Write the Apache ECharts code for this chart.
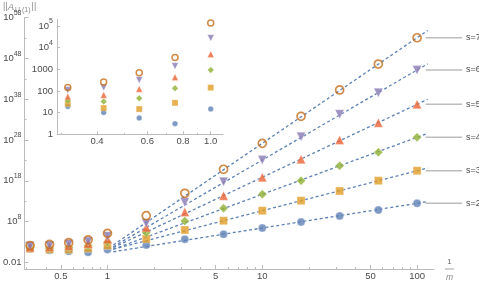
<!DOCTYPE html>
<html><head><meta charset="utf-8">
<script src="https://cdn.jsdelivr.net/npm/echarts@6/dist/echarts.min.js"></script>
<style>html,body{margin:0;padding:0;background:#fff}#c{width:479px;height:282px}</style>
</head><body><div id="c"></div>
<script>
// ---- data ----
const xValues = [0.316, 0.422, 0.562, 0.75, 1, 1.78, 3.16, 5.62, 10, 17.8, 31.6, 56.2, 100];
const insetCount = 5; // first five x values (<= 1) also shown in the inset
const seriesNames = ['s=2', 's=3', 's=4', 's=5', 's=6', 's=7'];
const valS2 = [19.2, 10.2, 5.65, 3.1, 14.6, 195, 4.8e3, 8.1e4, 2.8e6, 8.3e7, 2.5e9, 7.2e10, 3.2e12];
const valS3 = [25.6, 16.3, 14.6, 28.4, 143, 5.8e3, 9.1e5, 1.7e8, 4.9e10, 1.4e13, 3.2e15, 1.1e18, 3.0e20];
const valS4 = [36, 32.6, 46.6, 134, 930, 2.0e5, 1.4e8, 1.9e11, 5.0e14, 1.1e18, 5.0e21, 9.8e24, 4.6e28];
const valS5 = [55, 66, 125, 428, 5000, 4.0e6, 2.3e10, 2.3e14, 7.4e18, 1.9e23, 1.0e28, 1.7e32, 5.6e36];
const valS6 = [112, 143, 322, 1413, 28000, 4.0e7, 5.5e12, 6.2e17, 1.3e23, 6.5e28, 2.0e34, 3.9e39, 1.4e45];
const valS7 = [143, 262, 700, 3550, 137000, 2.9e9, 8.9e14, 6.8e20, 1.5e27, 6.3e33, 1.8e40, 4.0e46, 1.1e53];
// dashed asymptotic fit lines: endpoints
const fitX = [1.09, 117];
const fitS2 = [4.3, 8.1e12];
const fitS3 = [18.6, 1.4e21];
const fitS4 = [18.2, 4.1e29];
const fitS5 = [45.7, 9.3e37];
const fitS6 = [74, 4.5e46];
const fitS7 = [195, 6.6e54];
// ticks
const xTickLabels = [0.5, 1, 5, 10, 50, 100];
const xMinorTicks = [0.3, 0.4, 0.6, 0.7, 0.8, 0.9, 2, 3, 4, 6, 7, 8, 9, 20, 30, 40, 60, 70, 80, 90];
const yTickLabels = [0.01, 1e8, 1e18, 1e28, 1e38, 1e48, 1e58];
const yMinorTicks = [1e3, 1e13, 1e23, 1e33, 1e43, 1e53];
const insetXTickLabels = [0.4, 0.6, 0.8, 1.0];
const insetXMinorTicks = [0.3, 0.5, 0.7, 0.9];
const insetYTickLabels = [1, 10, 100, 1000, 1e4, 1e5];

// ---- styles ----
const allVals = [valS2, valS3, valS4, valS5, valS6, valS7];
const allFits = [fitS2, fitS3, fitS4, fitS5, fitS6, fitS7];
const colors = ['#5E81B5', '#E19C24', '#8FB032', '#EB6235', '#8778B3', '#C56E1A'];
const symbols = ['circle', 'rect', 'diamond', 'triangle', 'triangle', 'circle'];
const rotates = [0, 0, 0, 0, 180, 0];
const mainSizes = [8, 8, 9, 9, 9, 8];
const insetSizes = [5.5, 6, 6.5, 6.5, 6.5, 6];
const txt = '#4a4a4a';
const axisCol = '#bcbcbc';
const FONT = 'Liberation Sans';
const lineBlue = '#5E81B5';

const chart = echarts.init(document.getElementById('c'), null, {renderer: 'canvas'});

const supRich = {
  b: {fontSize: 9.5, fontFamily: FONT, color: txt, lineHeight: 16, verticalAlign: 'middle'},
  s: {fontSize: 7, fontFamily: FONT, color: txt, lineHeight: 16, verticalAlign: 'top'}
};

function logAxis(extra) {
  return Object.assign({
    type: 'log', logBase: 10,
    splitLine: {show: false},
    axisLine: {show: true, lineStyle: {color: axisCol, width: 1}},
  }, extra);
}

const xAxes = [
  logAxis({gridIndex: 0, position: 'bottom', min: 0.291, max: 128.6,
    axisTick: {show: true, inside: true, length: 4, customValues: xTickLabels, lineStyle: {color: axisCol}},
    axisLabel: {show: true, customValues: xTickLabels, margin: 2, color: txt, fontSize: 9.5, fontFamily: FONT,
      formatter: v => String(+(+v).toPrecision(3))}}),
  logAxis({gridIndex: 0, position: 'bottom', min: 0.291, max: 128.6, axisLine: {show: false},
    axisTick: {show: true, inside: true, length: 2, customValues: xMinorTicks, lineStyle: {color: axisCol}},
    axisLabel: {show: false}}),
  logAxis({gridIndex: 1, position: 'bottom', min: 0.2897, max: 1.104,
    axisTick: {show: true, inside: true, length: 3, customValues: insetXTickLabels, lineStyle: {color: axisCol}},
    axisLabel: {show: true, customValues: insetXTickLabels, margin: 2, color: txt, fontSize: 9.5, fontFamily: FONT,
      formatter: v => (+v).toFixed(1)}}),
  logAxis({gridIndex: 1, position: 'bottom', min: 0.2897, max: 1.104, axisLine: {show: false},
    axisTick: {show: true, inside: true, length: 1.5, customValues: insetXMinorTicks, lineStyle: {color: axisCol}},
    axisLabel: {show: false}})
];

const yAxes = [
  logAxis({gridIndex: 0, position: 'left', min: Math.pow(10, -3.59), max: 1.002e58,
    axisTick: {show: true, inside: true, length: 4, customValues: yTickLabels, lineStyle: {color: axisCol}},
    axisLabel: {show: true, customValues: yTickLabels, margin: 3, color: txt, fontSize: 9.5, fontFamily: FONT,
      rich: supRich,
      formatter: v => { if (v < 1) return '{b|0.01}'; const e = Math.round(Math.log10(v)); return '{b|10}{s|' + e + '}'; }}}),
  logAxis({gridIndex: 0, position: 'left', min: Math.pow(10, -3.59), max: 1.002e58, axisLine: {show: false},
    axisTick: {show: true, inside: true, length: 2, customValues: yMinorTicks, lineStyle: {color: axisCol}},
    axisLabel: {show: false}}),
  logAxis({gridIndex: 1, position: 'left', min: 1, max: Math.pow(10, 5.3),
    axisTick: {show: true, inside: true, length: 3, customValues: insetYTickLabels, lineStyle: {color: axisCol}},
    axisLabel: {show: true, customValues: insetYTickLabels, margin: 4, color: txt, fontSize: 9.5, fontFamily: FONT,
      rich: supRich,
      formatter: v => { if (v <= 1000) return '{b|' + Math.round(v) + '}'; const e = Math.round(Math.log10(v)); return '{b|10}{s|' + e + '}'; }}})
];

const series = [];
// dashed fit lines (below the points)
allFits.forEach((f, k) => {
  series.push({
    type: 'line', xAxisIndex: 0, yAxisIndex: 0, z: 1,
    data: fitX.map((x, i) => [x, f[i]]),
    showSymbol: false, symbol: 'none', silent: true,
    lineStyle: {color: lineBlue, width: 1.3, type: [3, 2.5]}
  });
});
// main points
allVals.forEach((vals, k) => {
  const open = k === 5;
  series.push({
    type: 'scatter', name: seriesNames[k], xAxisIndex: 0, yAxisIndex: 0, z: 3 + k,
    data: xValues.map((x, i) => [x, vals[i]]),
    symbol: symbols[k], symbolRotate: rotates[k], symbolSize: mainSizes[k],
    itemStyle: open ? {color: 'rgba(255,255,255,0)', borderColor: colors[k], borderWidth: 1.7}
                    : {color: colors[k], borderColor: 'rgba(255,255,255,0.45)', borderWidth: 0.8}
  });
});
// inset points
allVals.forEach((vals, k) => {
  const open = k === 5;
  series.push({
    type: 'scatter', xAxisIndex: 2, yAxisIndex: 2, z: 3 + k,
    data: xValues.slice(0, insetCount).map((x, i) => [x, vals[i]]),
    symbol: symbols[k], symbolRotate: rotates[k], symbolSize: insetSizes[k],
    itemStyle: open ? {color: 'rgba(255,255,255,0)', borderColor: colors[k], borderWidth: 1.5}
                    : {color: colors[k], borderColor: 'rgba(255,255,255,0.45)', borderWidth: 0.6}
  });
});

chart.setOption({
  animation: false,
  backgroundColor: '#fff',
  grid: [
    {left: 22.7, right: 45, top: 17.5, bottom: 13, containLabel: false},
    {left: 57, right: 256, top: 19.5, bottom: 147.7, containLabel: false}
  ],
  xAxis: xAxes,
  yAxis: yAxes,
  series: series
});

// right-hand labels and axis captions
const g = [];
allVals.forEach((vals, k) => {
  const last = vals.length - 1;
  const p = chart.convertToPixel({xAxisIndex: 0, yAxisIndex: 0}, [xValues[last], vals[last]]);
  g.push({type: 'line', silent: true, shape: {x1: p[0] + 8.5, y1: p[1], x2: p[0] + 45, y2: p[1]},
    style: {stroke: '#bdbdbd', lineWidth: 1.5}});
  g.push({type: 'text', silent: true, x: p[0] + 49, y: p[1],
    style: {text: seriesNames[k], fill: txt, fontSize: 9, fontFamily: FONT, align: 'left', verticalAlign: 'middle'}});
});
g.push({type: 'text', silent: true, x: 3, y: 7,
  style: {text: '{n|||}{a|A}{u|U (1)}{n|||}', verticalAlign: 'middle', align: 'left',
    rich: {
      n: {fontSize: 9, fontFamily: FONT, fill: '#8a8a8a', lineHeight: 14, verticalAlign: 'middle'},
      a: {fontSize: 9.5, fontFamily: FONT, fontStyle: 'italic', fill: '#8a8a8a', lineHeight: 14, verticalAlign: 'middle', padding: [0, 1, 0, 0]},
      u: {fontSize: 7, fontFamily: FONT, fill: '#8a8a8a', lineHeight: 14, verticalAlign: 'bottom', padding: [0, 1, 0, 0]}
    }}});
g.push({type: 'text', silent: true, x: 449.5, y: 261.5,
  style: {text: '1', fill: '#6a6a6a', fontSize: 8, fontFamily: FONT, align: 'center', verticalAlign: 'middle'}});
g.push({type: 'line', silent: true, shape: {x1: 445, y1: 269, x2: 454, y2: 269},
  style: {stroke: '#8a8a8a', lineWidth: 0.8}});
g.push({type: 'text', silent: true, x: 449.5, y: 277.5,
  style: {text: 'm', fill: '#8a8a8a', fontSize: 8.5, fontStyle: 'italic', fontFamily: FONT, align: 'center', verticalAlign: 'middle'}});
chart.setOption({graphic: g});
</script>
</body></html>
